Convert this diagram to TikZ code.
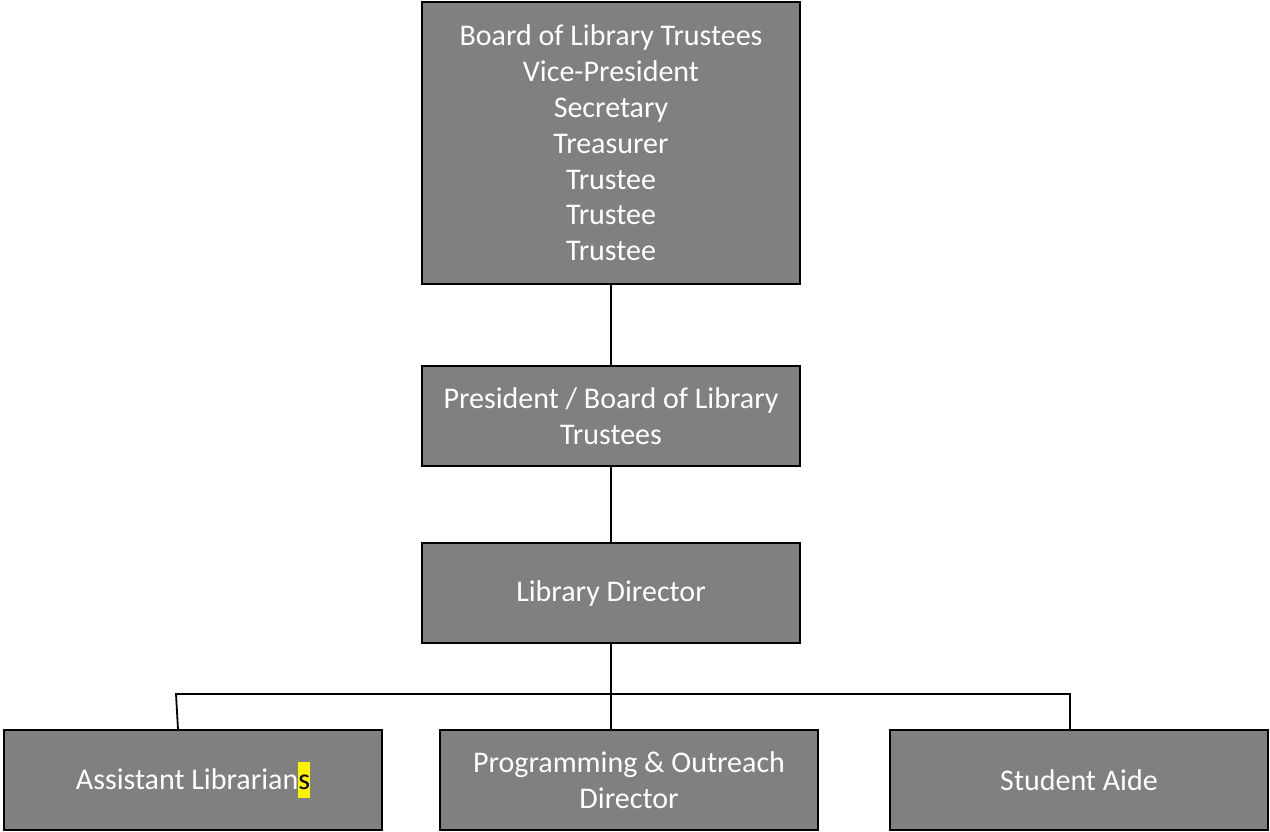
\documentclass[tikz,border=0pt]{standalone}
\usepackage{fontspec}
\setmainfont{Carlito}
\definecolor{boxgray}{HTML}{808080}
\newcommand{\marked}[1]{{\setlength{\fboxsep}{0pt}\colorbox{yellow}{\color{black}\rule[-0.3em]{0pt}{1.2em}#1}}}
\begin{document}
\begin{tikzpicture}[x=1pt,y=-1pt,
    post/.style={draw=black,line width=1.3pt,fill=boxgray,text=white,
      minimum width=378pt,minimum height=100pt,align=center,inner sep=0pt,
      font=\fontsize{30}{35.8}\selectfont},
    link/.style={line width=1.8pt,line join=miter}]
  \useasboundingbox (0,0) rectangle (1270,831);
  \draw
    (611,143) node[post,minimum height=282pt] (board){Board of Library Trustees\\Vice-President\\Secretary\\Treasurer\\Trustee\\Trustee\\Trustee}
    (611,416) node[post] (president){President / Board of Library\\Trustees}
    (611,593) node[post] (director){Library Director}
    (193,780) node[post] (assistant){Assistant Librarian\marked{s}}
    (629,780) node[post] (outreach){Programming \& Outreach\\Director}
    (1079,780) node[post] (aide){Student Aide};
  \coordinate (busleft) at (176,694);
  \coordinate (busright) at (1070,694);
  \begin{scope}[link]
    \draw (board) to (president);
    \draw (president) to (director);
    \draw (director.south) -- (director.south |- outreach.north);
    \draw ([xshift=-15pt]assistant.north) -- (busleft) -- (busright) -- ([xshift=-9pt]aide.north);
  \end{scope}
\end{tikzpicture}
\end{document}
